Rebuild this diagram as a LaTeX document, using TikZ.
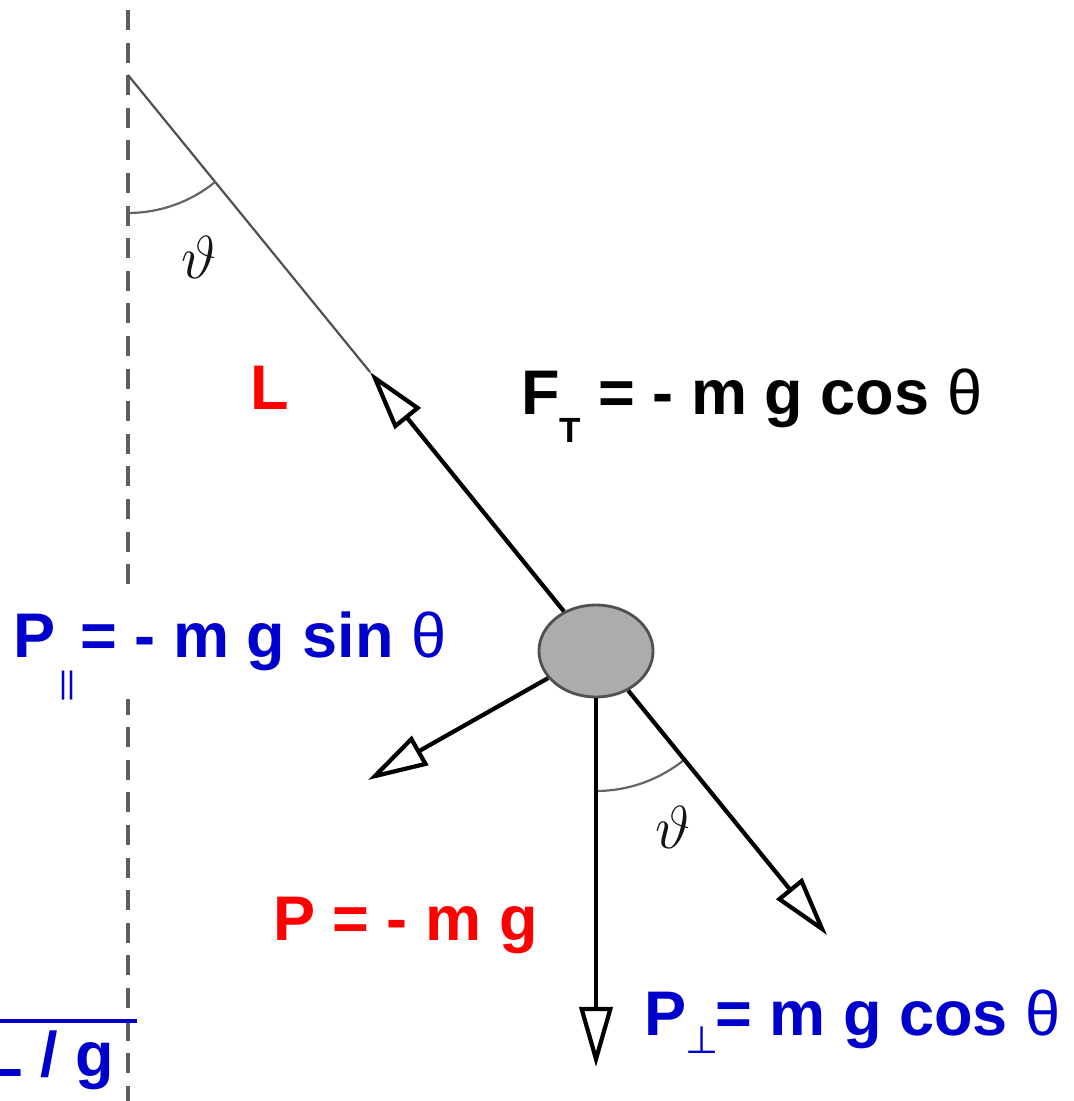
\documentclass[tikz,border=0pt]{standalone}
\usepackage{fontspec}
\setmainfont{Liberation Sans}
\newfontfamily\djvfont{DejaVu Sans}
\usetikzlibrary{arrows.meta,shapes.geometric}
\newdimen\pxu \pxu=0.28453pt
\definecolor{lblblue}{RGB}{0,0,204}
\definecolor{lblred}{RGB}{255,0,0}
\definecolor{bobfill}{RGB}{172,172,172}
\definecolor{bobedge}{RGB}{80,80,80}
\newcommand{\lblfont}{\fontsize{63\pxu}{70\pxu}\selectfont\bfseries}
\begin{document}
\begin{tikzpicture}[x=0.01cm,y=-0.01cm,
  lbl/.style={anchor=base west,inner sep=0pt,font=\lblfont},
  vec/.style={line width=1.2pt,-{Triangle[open,length=0.6cm,width=0.33cm]}},
  stringline/.style={line width=2.2\pxu,draw={rgb,255:red,80;green,80;blue,80}},
  arcline/.style={line width=2.2\pxu,draw={rgb,255:red,100;green,100;blue,100}},
  axisline/.style={line width=3.5\pxu,draw={rgb,255:red,95;green,95;blue,95},dash pattern=on 5.69pt off 3.58pt},
  anglelbl/.style={inner sep=0pt,text={rgb,255:red,20;green,20;blue,20},font=\fontsize{16pt}{16pt}\selectfont}
]
\useasboundingbox (0,0) rectangle (1074,1101);
% vertical dashed reference line
\draw[axisline] (128,10) -- (128,1101);
% points
\coordinate (pivot) at (128,75);
\coordinate (tipF) at (370,372);
\coordinate (tipA) at (368,780);
\coordinate (tipP) at (596,1067);
\coordinate (tipB) at (827,935);
% labels
\node[lbl,text=lblred] (Llab) at (249.4,410) {L};
\node[lbl] (FT) at (520.4,415) {F\raisebox{-27\pxu}{\fontsize{35\pxu}{40\pxu}\selectfont T} = - m g cos {\mdseries θ}};
\node[lbl,text=lblblue,fill=white,text height=66\pxu,text depth=38\pxu,inner ysep=4\pxu] (Ppar) at (12.4,657) {P\kern4\pxu\raisebox{-36\pxu}{\fontsize{31\pxu}{34\pxu}\selectfont\mdseries||}\kern5\pxu= - m g sin {\mdseries θ}};
\node[lbl,text=lblred] (Peq) at (272.4,940) {P = - m g};
\node[lbl,text=lblblue] (Pperp) at (643.4,1035) {P\kern-1\pxu\raisebox{-18\pxu}{\djvfont\mdseries\fontsize{38\pxu}{40\pxu}\selectfont ⊥}\kern-3\pxu= m g cos {\mdseries θ}};
\node[lbl,text=lblblue] (Lg) at (-16.5,1076) {L / g};
\draw[lblblue,line width=4\pxu] (0,1021) -- (137,1021);
% bob
\node[ellipse,minimum width=1.14cm,minimum height=0.92cm,inner sep=0pt,fill=bobfill,draw=bobedge,line width=2.8\pxu] (bob) at (596,651) {};
% string
\draw[stringline] (pivot) -- (tipF);
% angle arcs
\draw[arcline] (pivot) ++(0,138) arc[start angle=90,end angle=50.85,radius=138];
\draw[arcline] (bob.center) ++(0,140) arc[start angle=90,end angle=51,radius=140];
\node[anglelbl] (th1) at (199,257) {$\vartheta$};
\node[anglelbl] (th2) at (673,827) {$\vartheta$};
% force vectors
\draw[vec] (bob) -- (tipF);
\draw[vec] (bob) -- (tipA);
\draw[vec] (bob) -- (tipP);
\draw[vec] (bob) -- (tipB);
\end{tikzpicture}
\end{document}
